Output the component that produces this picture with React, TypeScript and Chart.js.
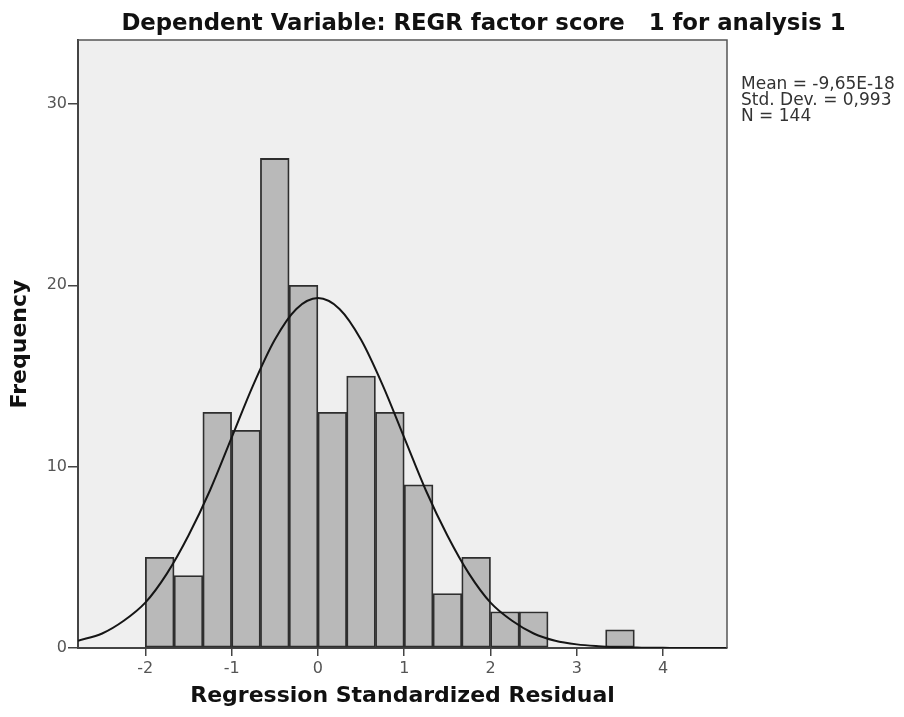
import { useEffect, useRef } from "react";
import { Chart, registerables } from "chart.js";

Chart.register(...registerables);

// Histogram bins (width 1/3), centres and counts
const binCenters = [-1.8333, -1.5, -1.1667, -0.8333, -0.5, -0.1667, 0.1667, 0.5, 0.8333, 1.1667, 1.5, 1.8333, 2.1667, 2.5, 3.5];
const frequencies = [5, 4, 13, 12, 27, 20, 13, 15, 13, 9, 3, 5, 2, 2, 1];

// Normal curve
const curveX = [-2.78, -2.5, -2.25, -2.0, -1.75, -1.5, -1.25, -1.0, -0.75, -0.5, -0.25, 0, 0.25, 0.5, 0.75, 1.0, 1.25, 1.5, 1.75, 2.0, 2.25, 2.5, 2.75, 3.0, 3.25, 3.5, 3.75, 4.0, 4.25, 4.5, 4.74];
const curveY = [0.4, 0.8, 1.5, 2.5, 4.1, 6.2, 8.7, 11.6, 14.5, 17.0, 18.7, 19.3, 18.7, 17.0, 14.5, 11.6, 8.7, 6.2, 4.1, 2.5, 1.5, 0.8, 0.4, 0.2, 0.1, 0.04, 0.02, 0.01, 0, 0, 0];

const xTickValues = [-2, -1, 0, 1, 2, 3, 4];
const yTickValues = [0, 10, 20, 30];

const titleText = "Dependent Variable: REGR factor score   1 for analysis 1";
const statsLines = ["Mean = -9,65E-18", "Std. Dev. = 0,993", "N = 144"];
const xTitle = "Regression Standardized Residual";
const yTitle = "Frequency";

const X_MIN = -2.78;
const X_MAX = 4.74;
const Y_MAX = 33.53;

const FONT = "'DejaVu Sans', sans-serif";

export default function App() {
  const ref = useRef<HTMLCanvasElement>(null);

  useEffect(() => {
    if (!ref.current) return;

    const framePlugin = {
      id: "spssFrame",
      beforeDraw(chart: any) {
        const { ctx, chartArea: a } = chart;
        ctx.save();
        ctx.fillStyle = "#efefef";
        ctx.fillRect(a.left, a.top, a.right - a.left, a.bottom - a.top);
        ctx.restore();
      },
      afterDraw(chart: any) {
        const { ctx, chartArea: a } = chart;
        ctx.save();
        ctx.strokeStyle = "#555";
        ctx.lineWidth = 1.5;
        ctx.beginPath();
        ctx.moveTo(a.left, a.top);
        ctx.lineTo(a.right, a.top);
        ctx.lineTo(a.right, a.bottom);
        ctx.stroke();

        ctx.fillStyle = "#111";
        ctx.font = `bold 22.8px ${FONT}`;
        ctx.textAlign = "center";
        ctx.textBaseline = "middle";
        ctx.fillText(titleText, (a.left + a.right) / 2 + 81, 16);

        ctx.fillStyle = "#333";
        ctx.font = `17px ${FONT}`;
        ctx.textAlign = "left";
        statsLines.forEach((line, i) => {
          ctx.fillText(line, a.right + 14, 77 + i * 16);
        });
        ctx.restore();
      },
    };

    const chart = new Chart(ref.current, {
      type: "bar",
      data: {
        datasets: [
          {
            type: "line" as const,
            data: curveX.map((x, i) => ({ x, y: curveY[i] })),
            borderColor: "#151515",
            borderWidth: 2,
            pointRadius: 0,
            cubicInterpolationMode: "monotone" as const,
            fill: false,
            order: 1,
          },
          {
            type: "bar" as const,
            data: binCenters.map((x, i) => ({ x, y: frequencies[i] })),
            backgroundColor: "#b9b9b9",
            borderColor: "#2e2e2e",
            borderWidth: 1.8,
            borderSkipped: false,
            barPercentage: 1,
            categoryPercentage: 1,
            order: 2,
          } as any,
        ],
      },
      options: {
        animation: false,
        responsive: true,
        maintainAspectRatio: false,
        layout: { padding: { top: 32, right: 169, bottom: 0, left: 0 } },
        plugins: {
          legend: { display: false },
          tooltip: { enabled: false },
          title: { display: false },
        },
        scales: {
          x: {
            type: "linear",
            min: X_MIN,
            max: X_MAX,
            offset: false,
            afterBuildTicks: (s: any) => {
              s.ticks = xTickValues.map((v) => ({ value: v }));
            },
            afterFit: (s: any) => {
              s.height = 61;
            },
            grid: {
              display: true,
              offset: false,
              drawOnChartArea: false,
              drawTicks: true,
              tickLength: 8,
              color: "#444",
              lineWidth: 1.5,
            },
            border: { display: true, color: "#444", width: 2 },
            ticks: {
              color: "#555",
              font: { size: 16, family: FONT },
              padding: 3,
              maxRotation: 0,
              autoSkip: false,
              callback: (v: any) => String(v),
            },
            title: {
              display: true,
              text: xTitle,
              color: "#111",
              font: { size: 22, weight: "bold", family: FONT, lineHeight: 1 },
              padding: { top: 0, bottom: 2 },
            },
          },
          y: {
            type: "linear",
            min: 0,
            max: Y_MAX,
            afterBuildTicks: (s: any) => {
              s.ticks = yTickValues.map((v) => ({ value: v }));
            },
            afterFit: (s: any) => {
              s.width = 70;
            },
            grid: {
              display: true,
              drawOnChartArea: false,
              drawTicks: true,
              tickLength: 10,
              color: "#444",
              lineWidth: 1.5,
            },
            border: { display: true, color: "#444", width: 2 },
            ticks: {
              color: "#555",
              font: { size: 16, family: FONT },
              padding: 1,
              autoSkip: false,
              callback: (v: any) => String(v),
            },
            title: {
              display: true,
              text: yTitle,
              color: "#111",
              font: { size: 22, weight: "bold", family: FONT, lineHeight: 1 },
              padding: { top: 1, bottom: 0 },
            },
          },
        },
      },
      plugins: [framePlugin],
    });

    return () => chart.destroy();
  }, []);

  return (
    <div style={{ width: 888, height: 701 }}>
      <canvas ref={ref} style={{ display: "block" }} />
    </div>
  );
}
